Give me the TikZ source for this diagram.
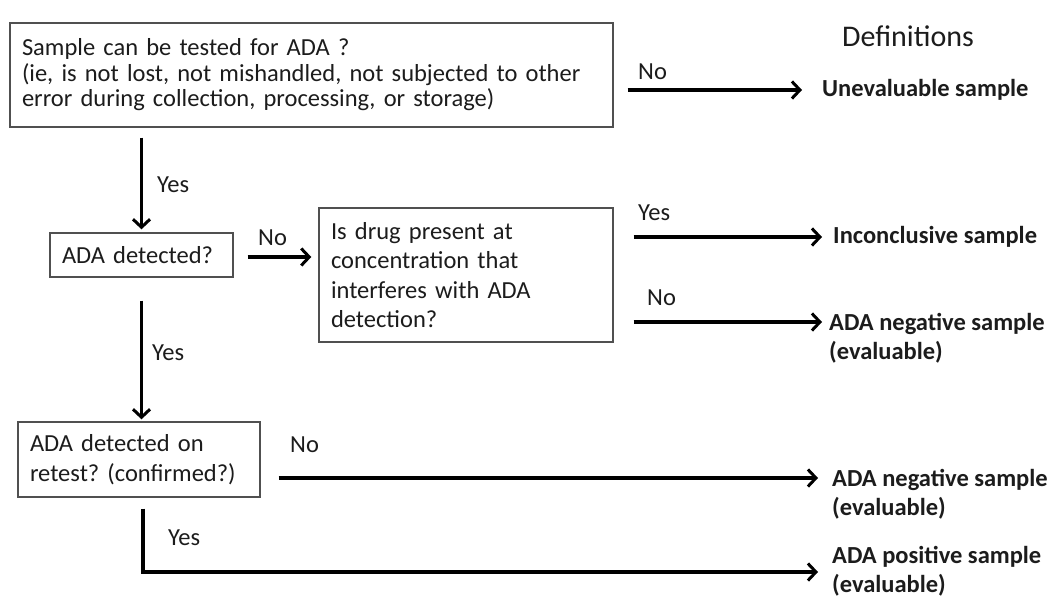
\documentclass[tikz,border=0pt]{standalone}
\usepackage{fontspec}
\setmainfont{Carlito}
\usetikzlibrary{arrows.meta,calc}
\definecolor{txt}{HTML}{1C1C1C}
\definecolor{boxgray}{HTML}{505050}
\begin{document}
\frenchspacing
\begin{tikzpicture}[x=1pt,y=-1pt,
  box/.style={draw=boxgray, line width=1.4pt, inner xsep=12pt, inner ysep=0pt, align=left,
    font=\fontsize{24.5}{29.5}\selectfont\frenchspacing, text=txt},
  lbl/.style={anchor=west, inner sep=0pt, font=\fontsize{24.5}{29.5}\selectfont, text=txt},
  res/.style={inner sep=0pt, align=left, font=\fontsize{24.5}{29}\selectfont\bfseries, text=txt},
  arr/.style={line width=3.2pt, -{Straight Barb[length=8pt,width=17pt,line width=3pt]}},
  ]
\fill[white] (0,0) rectangle (1058,597);
\useasboundingbox (0,0) rectangle (1058,597);

% boxes
\node[box, text width=579pt, minimum height=104pt, font=\fontsize{24.5}{25.5}\selectfont\frenchspacing] (b1) at (311.5,75)
  {Sample can be tested for ADA ?\\(ie, is not lost, not mishandled, not subjected to other\\error during collection, processing, or storage)};
\node[box, text width=159pt, minimum height=44pt] (b2) at (141.5,255) {ADA detected?};
\node[box, text width=270pt, minimum height=134pt] (b3) at (466,275)
  {Is drug present at\\concentration that\\interferes with ADA\\detection?};
\node[box, text width=218pt, minimum height=75pt] (b4) at (139,459.5)
  {ADA detected on\\retest? (confirmed?)};

% definitions
\node[inner sep=0pt, font=\fontsize{30}{36}\selectfont, text=txt] (def) at (908,36) {Definitions};
\node[res, anchor=west] (d1) at (822,90) {Unevaluable sample};
\node[res, anchor=west] (inc) at (833,237) {Inconclusive sample};
\node[res, anchor=north west] (neg1) at (829,313) {ADA negative sample\\(evaluable)};
\node[res, anchor=north west] (neg2) at (832,469) {ADA negative sample\\(evaluable)};
\node[res, anchor=west] (pos) at (832,571) {ADA positive sample\\(evaluable)};

% labels
\node[lbl] (n1) at (638,72) {No};
\node[lbl] (y1) at (157,185) {Yes};
\node[lbl] (n2) at (258,238) {No};
\node[lbl] (y3) at (638,213) {Yes};
\node[lbl] (n3) at (647,298) {No};
\node[lbl] (y2) at (152,353) {Yes};
\node[lbl] (n4) at (290,445) {No};
\node[lbl] (y4) at (168,538) {Yes};

% connectors
\draw[arr] (b1.east |- d1.west) ++(14,0) -- ($(d1.west)+(-20,0)$);
\draw[arr] ($(b2.north |- b1.south)+(0,10)$) -- ($(b2.north)+(0,-3)$);
\draw[arr] ($(b2.east)+(14,2)$) -- ($(b3.west |- b2.east)+(-7,2)$);
\draw[arr] ($(b3.east |- inc.west)+(20,0)$) -- ($(inc.west)+(-11,0)$);
\draw[arr] ($(b3.east |- neg1.north west)+(20,9)$) -- ($(neg1.north west)+(-7,9)$);
\draw[arr] ($(b2.south)+(0,23)$) -- ($(b2.south |- b4.north)+(0,-2)$);
\draw[arr] ($(b4.east |- neg2.north west)+(18,9)$) -- ($(neg2.north west)+(-14,9)$);
\draw[arr] ($(b4.south)+(4,11)$) -- ($(b4.south |- pos.west)+(4,1)$) -- ($(pos.west)+(-14,1)$);
\end{tikzpicture}
\end{document}
